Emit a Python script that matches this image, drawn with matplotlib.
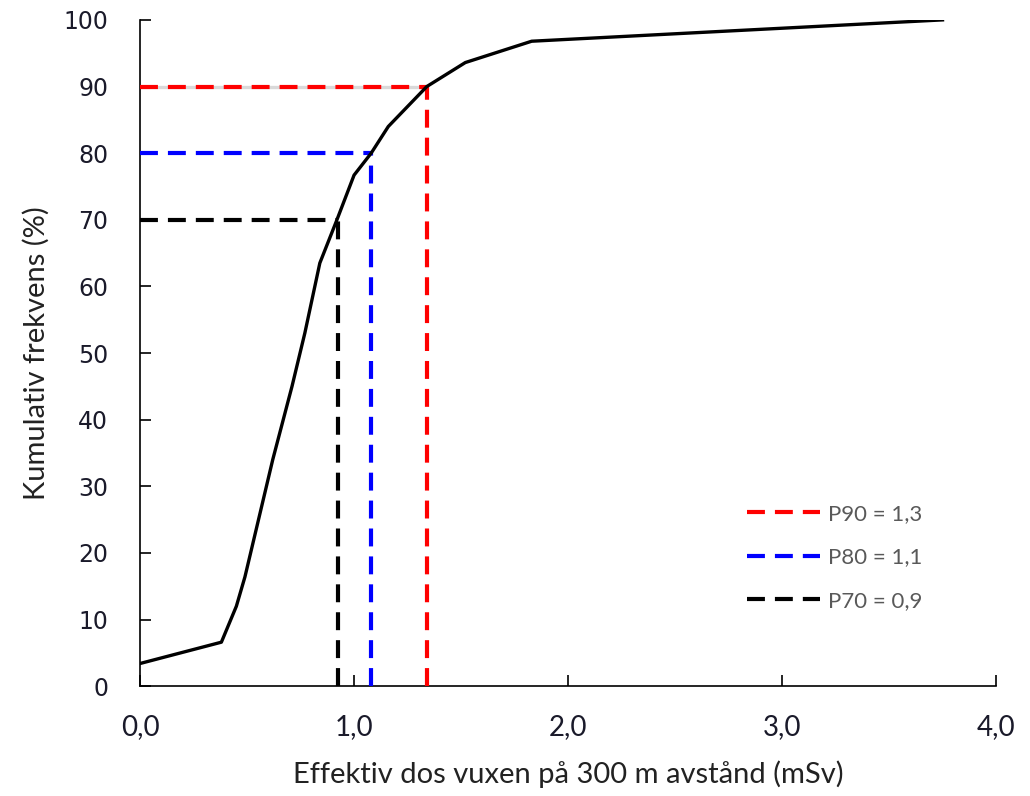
import matplotlib.pyplot as plt

# cumulative curve
dose = [0.0, 0.38, 0.45, 0.49, 0.62, 0.71, 0.77, 0.84, 0.92, 1.0, 1.08, 1.16, 1.34, 1.52, 1.83, 3.75]
cum = [3.4, 6.6, 12.0, 16.4, 34.0, 45.0, 53.0, 63.5, 70.0, 76.7, 80.0, 84.0, 90.0, 93.6, 96.8, 100.0]

# percentiles
p_levels = [90, 80, 70]
p_values = [1.34, 1.08, 0.925]
p_labels = ['P90 = 1,3', 'P80 = 1,1', 'P70 = 0,9']
p_colors = ['#ff0000', '#0000ff', '#000000']

fig = plt.figure(figsize=(10.3, 7.96), dpi=100)
ax = fig.add_axes([0.136, 0.138, 0.831, 0.837])

ax.plot(dose, cum, color='black', lw=2.4, zorder=4)

# faint grey line under the P90 horizontal
ax.plot([0, p_values[0]], [p_levels[0]] * 2, color='#d9d9d9', lw=2.4, zorder=2)

dash = (0, (4.3, 2.4))
for lev, val, lab, col in zip(p_levels, p_values, p_labels, p_colors):
    ax.plot([0, val], [lev, lev], color=col, lw=3, ls=dash, label=lab, zorder=3)
    ax.plot([val, val], [0, lev], color=col, lw=3, ls=dash, zorder=3)

ax.set_xlim(0, 4)
ax.set_ylim(0, 100)
ax.set_xticks([0, 1, 2, 3, 4])
ax.set_xticklabels(['0,0', '1,0', '2,0', '3,0', '4,0'], family='Lato', fontsize=20, color='#1a1a2a')
ax.set_yticks(range(0, 101, 10))
ax.set_yticklabels([str(v) for v in range(0, 101, 10)], family='DejaVu Sans', fontsize=17, color='#1a1a2a')
ax.tick_params(axis='both', direction='in', length=8, width=1.2)
ax.tick_params(axis='x', pad=20)
ax.tick_params(axis='y', pad=23)

for s in ['top', 'right']:
    ax.spines[s].set_visible(False)
for s in ['left', 'bottom']:
    ax.spines[s].set_linewidth(1.2)

ax.set_xlabel('Effektiv dos vuxen på 300 m avstånd (mSv)', family='Lato', fontsize=21, color='#222222', labelpad=15)
ax.set_ylabel('Kumulativ frekvens (%)', family='Lato', fontsize=21, color='#222222', labelpad=10)

leg = ax.legend(loc='upper left', bbox_to_anchor=(0.696, 0.29), frameon=False, borderpad=0,
                prop={'family': 'Lato', 'size': 16}, handlelength=3.3, labelspacing=1.05,
                handletextpad=0.36)
for t in leg.get_texts():
    t.set_color('#595959')

fig.savefig('out.png', dpi=100)
